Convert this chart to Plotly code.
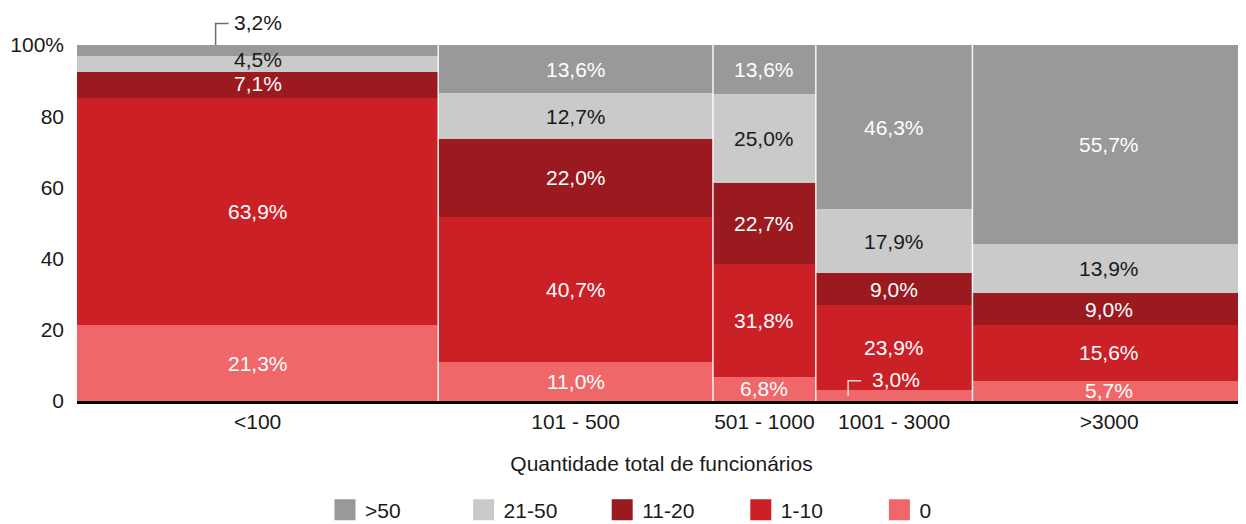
import plotly.graph_objects as go

# ---------------- data ----------------
categories = ["<100", "101 - 500", "501 - 1000", "1001 - 3000", ">3000"]
col_widths = [30.9, 23.5, 8.8, 13.4, 23.4]          # share of companies (column width, %)

series_names = ["0", "1-10", "11-20", "21-50", ">50"]  # bottom -> top
s_0 = [21.3, 11.0, 6.8, 3.0, 5.7]
s_1_10 = [63.9, 40.7, 31.8, 23.9, 15.6]
s_11_20 = [7.1, 22.0, 22.7, 9.0, 9.0]
s_21_50 = [4.5, 12.7, 25.0, 17.9, 13.9]
s_gt50 = [3.2, 13.6, 13.6, 46.3, 55.7]

y_ticks = [0, 20, 40, 60, 80, 100]
y_tick_labels = ["0", "20", "40", "60", "80", "100%"]

x_title = "Quantidade total de funcionários"

# ---------------- styles ----------------
series_values = [s_0, s_1_10, s_11_20, s_21_50, s_gt50]
colors = {"0": "#f0676a", "1-10": "#cc2027", "11-20": "#9a1a1f",
          "21-50": "#cacaca", ">50": "#999999"}
label_colors = {"0": "white", "1-10": "white", "11-20": "white",
                "21-50": "#1a1a1a", ">50": "white"}
legend_order = [">50", "21-50", "11-20", "1-10", "0"]

FONT = "Liberation Sans, Arial, Helvetica, sans-serif"
FS = 21
# the page body adds an 8px offset, so the figure is 8px smaller than the window
W, H = 1238, 516
ML, MR, MT, MB = 69, 0, 37, 123
PW, PH = W - ML - MR, H - MT - MB

# small label nudges (px) to avoid overlaps
label_nudge = {(0, "21-50"): 5, (0, "11-20"): 2}
# labels drawn outside their segment with an elbow leader line
callouts = {
    (0, ">50"): dict(ref="top", rise=21.5, line_dx=-42, text_dx=-26,
                     line_color="#6e6e6e", text_color="#1a1a1a"),
    (3, "0"): dict(ref="mid", rise=15, line_dx=-46, text_dx=-24,
                   line_color="rgba(255,255,255,0.8)", text_color="white"),
}

# column geometry from widths
lefts, centers = [], []
acc = 0.0
for w in col_widths:
    lefts.append(acc)
    centers.append(acc + w / 2)
    acc += w

fig = go.Figure()

bases = [0.0] * len(categories)
annotations = []
shapes = []
for name, vals in zip(series_names, series_values):
    fig.add_trace(go.Bar(
        x=centers, y=vals, width=col_widths, name=name,
        marker=dict(color=colors[name], line=dict(width=0)),
        showlegend=False, hoverinfo="skip",
    ))
    for i, v in enumerate(vals):
        txt = f"{v:.1f}".replace(".", ",") + "%"
        key = (i, name)
        if key in callouts:
            c = callouts[key]
            y0 = bases[i] + v if c["ref"] == "top" else bases[i] + v / 2
            xl = centers[i] / 100 + c["line_dx"] / PW
            yp0 = y0 / 100
            yp1 = yp0 + c["rise"] / PH
            shapes.append(dict(
                type="path", xref="paper", yref="paper",
                path=f"M {xl},{yp0} L {xl},{yp1} L {xl + 13 / PW},{yp1}",
                line=dict(color=c["line_color"], width=1.5), layer="above"))
            annotations.append(dict(
                x=centers[i], y=y0, xref="x", yref="y", text=txt,
                showarrow=False, xanchor="left", yanchor="middle",
                xshift=c["text_dx"], yshift=c["rise"] + 1,
                font=dict(family=FONT, size=FS, color=c["text_color"])))
        else:
            annotations.append(dict(
                x=centers[i], y=bases[i] + v / 2, xref="x", yref="y", text=txt,
                showarrow=False, xanchor="center", yanchor="middle",
                yshift=label_nudge.get(key, 0),
                font=dict(family=FONT, size=FS, color=label_colors[name])))
        bases[i] += v

# white separators between columns
for b in lefts[1:]:
    shapes.append(dict(type="line", xref="x", yref="y", x0=b, x1=b, y0=0, y1=100,
                       line=dict(color="rgba(255,255,255,0.9)", width=1.5),
                       layer="above"))

# legend entries (square swatches)
for name in legend_order:
    fig.add_trace(go.Scatter(
        x=[None], y=[None], mode="markers", name=name,
        marker=dict(symbol="square", size=16, color=colors[name],
                    line=dict(color=colors[name], width=5)),
        showlegend=True, hoverinfo="skip",
    ))

fig.update_layout(
    width=W, height=H,
    margin=dict(l=ML, r=MR, t=MT, b=MB, pad=0),
    paper_bgcolor="white", plot_bgcolor="white",
    barmode="stack", bargap=0,
    font=dict(family=FONT, size=FS, color="#1a1a1a"),
    xaxis=dict(range=[0, 100], tickmode="array", tickvals=centers,
               ticktext=categories, showgrid=False, zeroline=False,
               showline=True, linecolor="black", linewidth=3, ticks="",
               ticklabelstandoff=0, automargin=False,
               title=dict(text=x_title, standoff=25,
                          font=dict(family=FONT, size=FS, color="#1a1a1a")),
               fixedrange=True),
    yaxis=dict(range=[0, 100], tickmode="array", tickvals=y_ticks,
               ticktext=y_tick_labels, showgrid=False, zeroline=False,
               showline=False, ticks="", ticklabelstandoff=12,
               automargin=False, fixedrange=True),
    legend=dict(orientation="h", xref="container", x=(325 - 8) / W,
                xanchor="left", yref="container", y=1 - (510 - 8) / H,
                yanchor="middle", traceorder="normal", itemsizing="trace",
                entrywidth=93.6, entrywidthmode="pixels",
                font=dict(family=FONT, size=FS, color="#1a1a1a"),
                bgcolor="rgba(0,0,0,0)"),
    annotations=annotations,
    shapes=shapes,
)

fig.write_html("out.html")
